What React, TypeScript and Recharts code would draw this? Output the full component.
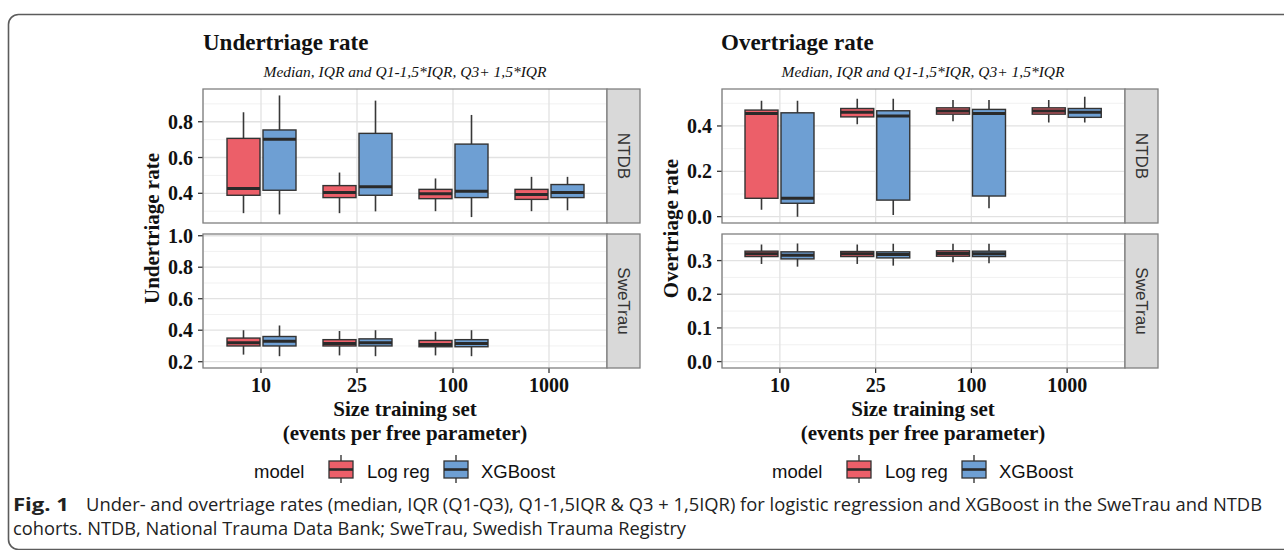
import React from 'react';
import { ComposedChart, Bar, XAxis, YAxis, CartesianGrid } from 'recharts';

type Stat = [number, number, number, number, number] | null; // [min, q1, median, q3, max]

const sizes = ['10', '25', '100', '1000'];
const modelNames = ['Log reg', 'XGBoost'];
const modelColors = ['#EC5F69', '#6E9FD3'];

// Undertriage rate – NTDB
const underNtdbLogReg: Stat[] = [
  [0.289, 0.389, 0.427, 0.707, 0.853],
  [0.289, 0.376, 0.404, 0.443, 0.516],
  [0.300, 0.370, 0.398, 0.422, 0.483],
  [0.300, 0.366, 0.394, 0.422, 0.492],
];
const underNtdbXgb: Stat[] = [
  [0.282, 0.417, 0.702, 0.754, 0.947],
  [0.299, 0.389, 0.436, 0.735, 0.918],
  [0.267, 0.376, 0.411, 0.675, 0.838],
  [0.305, 0.376, 0.404, 0.449, 0.492],
];
// Undertriage rate – SweTrau
const underSweLogReg: Stat[] = [
  [0.245, 0.300, 0.320, 0.350, 0.400],
  [0.240, 0.300, 0.315, 0.340, 0.395],
  [0.240, 0.295, 0.310, 0.335, 0.390],
  null,
];
const underSweXgb: Stat[] = [
  [0.235, 0.300, 0.330, 0.360, 0.430],
  [0.235, 0.300, 0.320, 0.345, 0.400],
  [0.235, 0.295, 0.315, 0.340, 0.400],
  null,
];
// Overtriage rate – NTDB
const overNtdbLogReg: Stat[] = [
  [0.030, 0.081, 0.455, 0.470, 0.511],
  [0.407, 0.440, 0.460, 0.477, 0.520],
  [0.421, 0.452, 0.466, 0.480, 0.514],
  [0.415, 0.452, 0.466, 0.480, 0.514],
];
const overNtdbXgb: Stat[] = [
  [0.000, 0.059, 0.081, 0.458, 0.511],
  [0.007, 0.073, 0.444, 0.467, 0.520],
  [0.037, 0.091, 0.455, 0.473, 0.514],
  [0.415, 0.438, 0.461, 0.477, 0.529],
];
// Overtriage rate – SweTrau
const overSweLogReg: Stat[] = [
  [0.290, 0.312, 0.320, 0.328, 0.348],
  [0.290, 0.312, 0.320, 0.327, 0.348],
  [0.295, 0.313, 0.321, 0.329, 0.350],
  null,
];
const overSweXgb: Stat[] = [
  [0.282, 0.305, 0.316, 0.326, 0.351],
  [0.285, 0.308, 0.318, 0.326, 0.350],
  [0.292, 0.312, 0.320, 0.328, 0.350],
  null,
];

const underNtdbTicks = [0.4, 0.6, 0.8];
const underNtdbMinor = [0.3, 0.5, 0.7, 0.9];
const underSweTicks = [0.2, 0.4, 0.6, 0.8, 1.0];
const underSweMinor = [0.3, 0.5, 0.7, 0.9];
const overNtdbTicks = [0.0, 0.2, 0.4];
const overNtdbMinor = [0.1, 0.3, 0.5];
const overSweTicks = [0.0, 0.1, 0.2, 0.3];
const overSweMinor = [0.05, 0.15, 0.25, 0.35];

const SERIF = "'Liberation Serif', 'Times New Roman', 'DejaVu Serif', serif";
const SANS = "'Liberation Sans', Arial, 'DejaVu Sans', sans-serif";
const CAPTION = "'Open Sans', 'Noto Sans', sans-serif";

const renderBox = (props: any, key: string, fill: string) => {
  const { x, y, width, height } = props;
  const row = props.payload ?? props;
  const st = row ? row[key] : null;
  if (!st || !Number.isFinite(y) || !Number.isFinite(height) || !Number.isFinite(x)) return <g />;
  const [mn, q1, md, q3, mx] = st as number[];
  const top = Math.min(y, y + height);
  const h = Math.abs(height);
  const py = (v: number) => top + (h * (mx - v)) / (mx - mn);
  const cx = x + width / 2;
  return (
    <g>
      <line x1={cx} x2={cx} y1={py(mx)} y2={py(q3)} stroke="#383838" strokeWidth={1.6} />
      <line x1={cx} x2={cx} y1={py(q1)} y2={py(mn)} stroke="#383838" strokeWidth={1.6} />
      <rect x={x} y={py(q3)} width={width} height={Math.max(py(q1) - py(q3), 0.5)} fill={fill} stroke="#333" strokeWidth={1.4} />
      <line x1={x} x2={x + width} y1={py(md)} y2={py(md)} stroke="#2a2a2a" strokeWidth={3} />
    </g>
  );
};

type PanelProps = {
  left: number;
  top: number;
  width: number;
  yWidth: number;
  domain: [number, number];
  ticks: number[];
  minor: number[];
  logData: Stat[];
  xgbData: Stat[];
  showX: boolean;
};

const Panel = ({ left, top, width, yWidth, domain, ticks, minor, logData, xgbData, showX }: PanelProps) => {
  const data = sizes.map((s, i) => ({ size: s, log: logData[i], xgb: xgbData[i] }));
  const height = showX ? 173 : 153;
  const tickStyle = { fontSize: 20, fontWeight: 700, fontFamily: SERIF, fill: '#111' };
  return (
    <div style={{ position: 'absolute', left, top }}>
      <ComposedChart
        width={width}
        height={height}
        data={data}
        margin={{ top: 9, right: 0, bottom: showX ? 0 : 10, left: 0 }}
        barSize={33}
        barGap={3}
      >
        <CartesianGrid horizontalValues={minor} vertical={false} stroke="#efefef" strokeWidth={0.9} />
        <CartesianGrid horizontalValues={ticks} stroke="#e2e2e2" strokeWidth={1.3} />
        <XAxis
          dataKey="size"
          hide={!showX}
          height={30}
          padding={{ left: 10, right: 10 }}
          axisLine={false}
          tickLine={{ stroke: '#333', strokeWidth: 1.3 }}
          tickSize={5}
          tickMargin={5}
          interval={0}
          tick={tickStyle}
        />
        <YAxis
          type="number"
          domain={domain}
          allowDataOverflow
          ticks={ticks}
          interval={0}
          width={yWidth}
          axisLine={false}
          tickLine={{ stroke: '#333', strokeWidth: 1.3 }}
          tickSize={5}
          tickMargin={5}
          tick={tickStyle}
          tickFormatter={(v: number) => v.toFixed(1)}
        />
        <Bar
          dataKey={(d: any) => (d.log ? [d.log[0], d.log[4]] : null)}
          name={modelNames[0]}
          fill={modelColors[0]}
          isAnimationActive={false}
          shape={(p: any) => renderBox(p, 'log', modelColors[0])}
        />
        <Bar
          dataKey={(d: any) => (d.xgb ? [d.xgb[0], d.xgb[4]] : null)}
          name={modelNames[1]}
          fill={modelColors[1]}
          isAnimationActive={false}
          shape={(p: any) => renderBox(p, 'xgb', modelColors[1])}
        />
      </ComposedChart>
    </div>
  );
};

const LegendKey = ({ cx, color }: { cx: number; color: string }) => (
  <g>
    <line x1={cx} x2={cx} y1={455} y2={483} stroke="#383838" strokeWidth={1.4} />
    <rect x={cx - 12} y={461} width={24} height={17} fill={color} stroke="#333" strokeWidth={1.3} />
    <line x1={cx - 12} x2={cx + 12} y1={469.5} y2={469.5} stroke="#2a2a2a" strokeWidth={2.6} />
  </g>
);

const Legend = ({ dx }: { dx: number }) => (
  <g fontFamily={SANS} fontSize={18.5} fill="#111">
    <text x={254 + dx} y={478}>model</text>
    <LegendKey cx={341 + dx} color={modelColors[0]} />
    <text x={367 + dx} y={478}>{modelNames[0]}</text>
    <LegendKey cx={456 + dx} color={modelColors[1]} />
    <text x={481 + dx} y={478}>{modelNames[1]}</text>
  </g>
);

const Strip = ({ x, y, label }: { x: number; y: number; label: string }) => (
  <g>
    <rect x={x} y={y} width={33} height={134} fill="#d9d9d9" stroke="#808080" strokeWidth={1.3} />
    <text
      transform={`translate(${x + 16.5},${y + 67}) rotate(90)`}
      textAnchor="middle"
      dominantBaseline="central"
      fontFamily={SANS}
      fontSize={17}
      fill="#333"
    >
      {label}
    </text>
  </g>
);

const Border = ({ x, y, w }: { x: number; y: number; w: number }) => (
  <rect x={x} y={y} width={w} height={134} fill="none" stroke="#808080" strokeWidth={1.3} />
);

export default function App() {
  return (
    <div style={{ position: 'absolute', left: 0, top: 0, width: 1284, height: 550, background: '#fff', overflow: 'hidden' }}>
      <Panel left={140} top={80} width={467} yWidth={63} domain={[0.234, 0.983]} ticks={underNtdbTicks} minor={underNtdbMinor} logData={underNtdbLogReg} xgbData={underNtdbXgb} showX={false} />
      <Panel left={140} top={225} width={467} yWidth={63} domain={[0.16, 1.011]} ticks={underSweTicks} minor={underSweMinor} logData={underSweLogReg} xgbData={underSweXgb} showX={true} />
      <Panel left={640} top={80} width={485} yWidth={82} domain={[-0.028, 0.563]} ticks={overNtdbTicks} minor={overNtdbMinor} logData={overNtdbLogReg} xgbData={overNtdbXgb} showX={false} />
      <Panel left={640} top={225} width={485} yWidth={82} domain={[-0.019, 0.379]} ticks={overSweTicks} minor={overSweMinor} logData={overSweLogReg} xgbData={overSweXgb} showX={true} />
      <svg width={1284} height={550} style={{ position: 'absolute', left: 0, top: 0, pointerEvents: 'none' }}>
        <rect x={8.5} y={14.5} width={1320} height={535} rx={10} fill="none" stroke="#5c5c5c" strokeWidth={1.6} />

        <g fontFamily={SERIF} fill="#111">
          <text x={203} y={50} fontSize={23} fontWeight={700}>Undertriage rate</text>
          <text x={721} y={50} fontSize={23} fontWeight={700}>Overtriage rate</text>
          <text x={405} y={77} fontSize={15.5} fontStyle="italic" textAnchor="middle">Median, IQR and Q1-1,5*IQR, Q3+ 1,5*IQR</text>
          <text x={923} y={77} fontSize={15.5} fontStyle="italic" textAnchor="middle">Median, IQR and Q1-1,5*IQR, Q3+ 1,5*IQR</text>

          <text transform="translate(159,228.5) rotate(-90)" fontSize={21} fontWeight={700} textAnchor="middle">Undertriage rate</text>
          <text transform="translate(678,228.5) rotate(-90)" fontSize={21} fontWeight={700} textAnchor="middle">Overtriage rate</text>

          <text x={405} y={416} fontSize={21} fontWeight={700} textAnchor="middle">Size training set</text>
          <text x={405} y={440} fontSize={21} fontWeight={700} textAnchor="middle">(events per free parameter)</text>
          <text x={923} y={416} fontSize={21} fontWeight={700} textAnchor="middle">Size training set</text>
          <text x={923} y={440} fontSize={21} fontWeight={700} textAnchor="middle">(events per free parameter)</text>
        </g>

        <Border x={203} y={89} w={404} />
        <Border x={203} y={234} w={404} />
        <Border x={722} y={89} w={403} />
        <Border x={722} y={234} w={403} />
        <Strip x={607} y={89} label="NTDB" />
        <Strip x={607} y={234} label="SweTrau" />
        <Strip x={1125} y={89} label="NTDB" />
        <Strip x={1125} y={234} label="SweTrau" />

        <Legend dx={0} />
        <Legend dx={518} />

        <g fontFamily={CAPTION} fontSize={17.5} fill="#222">
          <text x={13} y={511} fontWeight={700} textLength={56} lengthAdjust="spacingAndGlyphs">Fig. 1</text>
          <text x={86} y={511} textLength={1176} lengthAdjust="spacingAndGlyphs">
            Under- and overtriage rates (median, IQR (Q1-Q3), Q1-1,5IQR &amp; Q3 + 1,5IQR) for logistic regression and XGBoost in the SweTrau and NTDB
          </text>
          <text x={13} y={535} textLength={673} lengthAdjust="spacingAndGlyphs">
            cohorts. NTDB, National Trauma Data Bank; SweTrau, Swedish Trauma Registry
          </text>
        </g>
      </svg>
    </div>
  );
}
